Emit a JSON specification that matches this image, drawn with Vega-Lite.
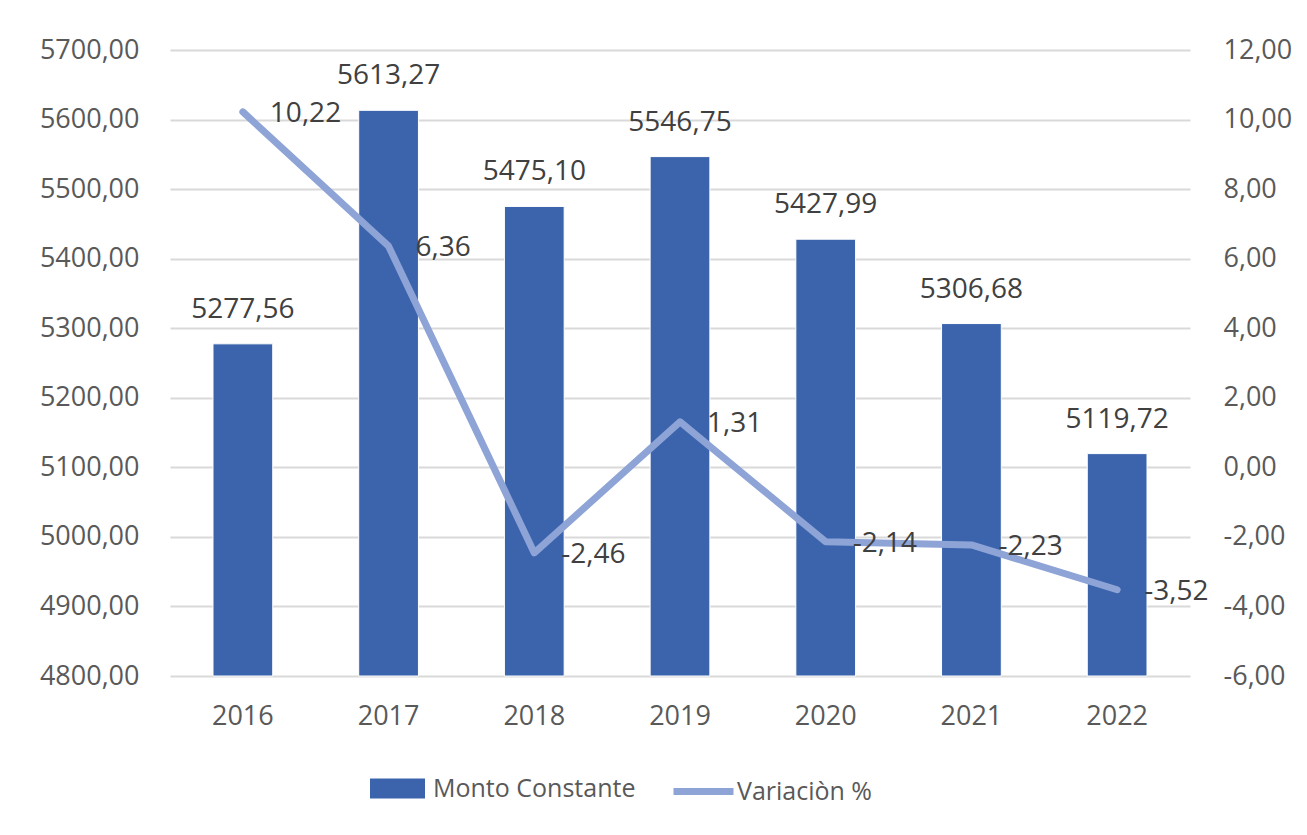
{
  "$schema": "https://vega.github.io/schema/vega-lite/v6.json",
  "autosize": "none",
  "width": 1020,
  "height": 626,
  "padding": {"left": 170, "top": 50, "right": 117, "bottom": 159},
  "background": "#ffffff",
  "config": {
    "locale": {"number": {"decimal": ",", "thousands": ".", "grouping": [3], "currency": ["", ""], "minus": "-"}},
    "view": {"stroke": null},
    "font": "Open Sans",
    "axis": {
      "labelFont": "Open Sans",
      "labelFontSize": 27,
      "labelColor": "#595959",
      "domain": false,
      "ticks": false,
      "title": null,
      "gridColor": "#d9d9d9",
      "gridWidth": 2
    },
    "legend": {
      "labelFont": "Open Sans",
      "labelFontSize": 25,
      "labelColor": "#595959",
      "labelLimit": 500,
      "padding": 0,
      "title": null
    }
  },
  "data": {
    "values": [
      {"anio": "2016", "monto": 5277.56, "variacion": 10.22},
      {"anio": "2017", "monto": 5613.27, "variacion": 6.36},
      {"anio": "2018", "monto": 5475.10, "variacion": -2.46},
      {"anio": "2019", "monto": 5546.75, "variacion": 1.31},
      {"anio": "2020", "monto": 5427.99, "variacion": -2.14},
      {"anio": "2021", "monto": 5306.68, "variacion": -2.23},
      {"anio": "2022", "monto": 5119.72, "variacion": -3.52}
    ]
  },
  "encoding": {
    "x": {
      "field": "anio",
      "type": "nominal",
      "sort": null,
      "scale": {"paddingInner": 0.59, "paddingOuter": 0.295},
      "axis": {"labelAngle": 0, "labelPadding": 27, "grid": false}
    }
  },
  "layer": [
    {
      "encoding": {
        "y": {
          "field": "monto",
          "type": "quantitative",
          "scale": {"domain": [4800, 5700], "zero": false, "nice": false},
          "axis": {"orient": "left", "values": [4800, 4900, 5000, 5100, 5200, 5300, 5400, 5500, 5600, 5700], "format": ".2f", "labelPadding": 31, "grid": true}
        }
      },
      "layer": [
        {
          "mark": {"type": "bar", "stroke": "#ffffff", "strokeWidth": 1},
          "encoding": {
            "y2": {"datum": 4800},
            "fill": {
              "datum": "Monto Constante",
              "scale": {"domain": ["Monto Constante"], "range": ["#3B64AD"]},
              "legend": {
                "orient": "none",
                "legendX": 200,
                "legendY": 711,
                "symbolType": "M-1,-0.364H1V0.364H-1Z",
                "symbolSize": 3025,
                "symbolStrokeWidth": 0,
                "labelOffset": 8
              }
            }
          }
        },
        {
          "mark": {"type": "text", "baseline": "alphabetic", "dy": -26, "font": "Open Sans", "fontSize": 28, "color": "#404040"},
          "encoding": {
            "text": {"field": "monto", "type": "quantitative", "format": ".2f"}
          }
        }
      ]
    },
    {
      "encoding": {
        "y": {
          "field": "variacion",
          "type": "quantitative",
          "scale": {"domain": [-6, 12], "zero": false, "nice": false},
          "axis": {"orient": "right", "values": [-6, -4, -2, 0, 2, 4, 6, 8, 10, 12], "format": ".2f", "labelPadding": 33, "grid": false}
        }
      },
      "layer": [
        {
          "mark": {"type": "line", "strokeWidth": 7, "strokeCap": "round", "strokeJoin": "round"},
          "encoding": {
            "stroke": {
              "datum": "Variaciòn %",
              "scale": {"domain": ["Variaciòn %"], "range": ["#8EA4D6"]},
              "legend": {
                "orient": "none",
                "legendX": 500,
                "legendY": 708,
                "symbolType": "stroke",
                "symbolSize": 3600,
                "symbolStrokeWidth": 7,
                "labelOffset": 0
              }
            }
          }
        },
        {
          "mark": {"type": "text", "align": "left", "baseline": "middle", "dx": 27, "dy": 2, "font": "Open Sans", "fontSize": 28, "color": "#404040"},
          "encoding": {
            "text": {"field": "variacion", "type": "quantitative", "format": ".2f"}
          }
        }
      ]
    }
  ],
  "resolve": {"scale": {"y": "independent"}}
}
